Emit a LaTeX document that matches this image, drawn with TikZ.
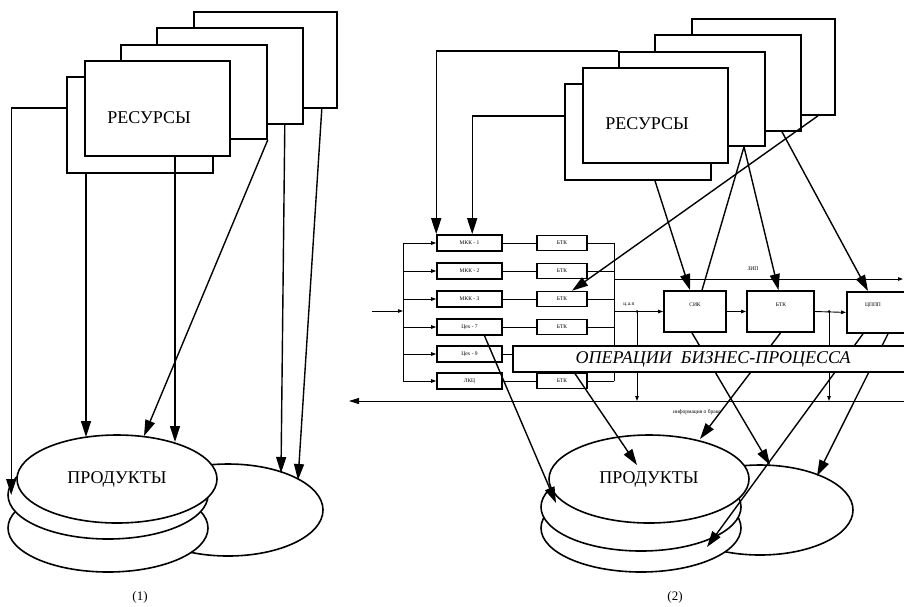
\documentclass[tikz,border=0pt]{standalone}
\usepackage{fontspec}
\setmainfont{Liberation Serif}
\usetikzlibrary{arrows.meta,shapes.geometric,calc}
\newcommand\myfL{\fontsize{18}{20}\selectfont}
\newcommand\myfS{\fontsize{5.5}{6}\selectfont}
\begin{document}
\begin{tikzpicture}[x=1pt,y=-1pt,
  res/.style={draw,line width=1.8pt,fill=white,anchor=north west,inner sep=0pt,minimum width=146pt,minimum height=96pt},
  disk/.style={draw,ellipse,line width=1.6pt,fill=white,inner sep=0pt,minimum width=200pt,minimum height=88pt,font=\myfL},
  bigtext/.style={inner sep=0pt,font=\myfL},
  bigarr/.style={line width=1.4pt,-{Triangle[length=16pt,width=10pt]}},
  plainln/.style={line width=1.4pt},
  thinln/.style={line width=0.9pt},
  sarr/.style={line width=0.9pt,-{Triangle[length=5pt,width=3.5pt]}},
  pbox/.style={draw,line width=1.6pt,fill=white,inner sep=0pt,minimum width=65pt,minimum height=16pt,font=\myfS},
  bbox/.style={draw,line width=1.6pt,fill=white,inner sep=0pt,minimum width=50pt,minimum height=15pt,font=\myfS},
  qbox/.style={draw,line width=1.8pt,fill=white,inner sep=0pt,minimum height=41pt},
  lab/.style={inner sep=0pt,font=\myfS}]
\fill[white] (0,0) rectangle (904,606);
\useasboundingbox (0,0) rectangle (904,606);

% ---------- left: resources
\node[res,minimum width=143pt] (La) at (193,11) {};
\node[res] (Lb) at (156,27) {};
\node[res,minimum height=94pt] (Lc) at (120,44) {};
\node[res] (Le) at (66,76) {};
\node[res,minimum width=145pt,minimum height=95pt] (Ld) at (84,60) {};
\node[bigtext] (Lt) at (149,118) {РЕСУРСЫ};

% ---------- left: products
\node[disk,minimum width=190pt,minimum height=92pt] (Lr) at (228,510) {};
\node[disk] (Ld3) at (108,528) {};
\node[disk] (Ld2) at (108,495) {};
\node[disk] (Lf) at (117,479) {ПРОДУКТЫ};

\draw[bigarr] ($(Le.north west)+(0,32)$) -| ($(Ld2.west)+(4,0)$);
\draw[bigarr] ($(Le.south west)+(20,0)$) -- ($(Lf.center)+(-31,-42)$);
\draw[bigarr] (Lc.south east) -- ($(Lf.center)+(27,-43)$);
\draw[bigarr] ($(Ld.south west)+(91,0)$) -- ($(Lf.center)+(58,-37)$);
\draw[bigarr] ($(Lb.south east)+(-19,0)$) -- ($(Lr.center)+(53,-37)$);
\draw[bigarr] ($(La.south east)+(-16,0)$) -- ($(Lr.center)+(70,-30)$);

\node[font=\fontsize{13}{15}\selectfont,inner sep=0pt] (n1) at (140,597) {(1)};

% ---------- right: process
\coordinate (bus1) at (403,243);
\coordinate (bus6) at (403,381);
\node[pbox] (M1) at (469.5,243) {МКК - 1};
\node[pbox] (M2) at (469.5,271) {МКК - 2};
\node[pbox] (M3) at (469.5,299) {МКК - 3};
\node[pbox] (C7) at (469.5,327) {Цех - 7};
\node[pbox] (C9) at (469.5,354) {Цех - 9};
\node[pbox] (LK) at (469.5,381) {ЛКЦ};
\node[bbox] (B1) at (562,243) {БТК};
\node[bbox] (B2) at (562,271) {БТК};
\node[bbox] (B3) at (562,299) {БТК};
\node[bbox] (B4) at (562,327) {БТК};
\node[bbox] (B6) at (562,381) {БТК};

\draw[thinln] (bus1) -- (bus6);
\draw[sarr] (bus1) -- (M1.west);
\foreach \n in {M2,M3,C7,C9}{\draw[sarr] (\n.west -| bus1) -- (\n.west);}
\draw[sarr] (bus6) -- (LK.west);
\coordinate (in) at (372,311);
\draw[sarr] (in) -- (in -| bus1);

\draw[thinln] (M1.east) -- (B1.west);
\draw[thinln] (M2.east) -- (B2.west);
\draw[thinln] (M3.east) -- (B3.west);
\draw[thinln] (C7.east) -- (B4.west);
\draw[thinln] (LK.east) -- (B6.west);

\coordinate (col1) at (614,243);
\coordinate (col6) at (614,381);
\draw[thinln] (col1) -- (col6);
\foreach \n in {B1,B2,B3,B4,B6}{\draw[thinln] (\n.east) -- (\n.east -| col1);}

\coordinate (zipA) at (614,279);
\coordinate (zipB) at (903,279);
\draw[sarr] (zipA) -- (zipB);
\node[lab] (zipt) at (753,269) {ЗИП};

\node[qbox,minimum width=62pt] (SIK) at (695,311.5) {};
\node[qbox,minimum width=67pt] (BT) at (780.5,311.5) {};
\node[qbox,minimum width=70pt,anchor=north west] (CP) at (846,291) {};
\node[lab] (SIKt) at (695,305) {СИК};
\node[lab] (BTt) at (781,305) {БТК};
\node[lab] (CPt) at (873,305) {ЦППП};

\draw[sarr] (SIK.west -| col1) -- (SIK.west);
\coordinate (d1) at (637,311.5);
\fill (d1) circle (1.5pt);
\node[lab] (dt) at (629,305) {ц.а.п};
\draw[sarr] (SIK.east) -- (BT.west);
\draw[sarr] (BT.east) -- (CP.west);
\coordinate (d2) at (829,311.5);
\fill (d2) circle (1.5pt);
\coordinate (bl1) at (904,401);
\coordinate (bl0) at (349,401);
\draw[line width=1pt,-{Triangle[length=10pt,width=6pt]}] (bl1) -- (bl0);
\draw[sarr] (d1) -- (d1 |- bl1);
\draw[sarr] (d2) -- (d2 |- bl1);
\node[lab] (info) at (697,412) {информация о браке};

% ---------- right: resources
\node[res,minimum width=143pt] (Ra) at (691,18) {};
\node[res] (Rb) at (654,34) {};
\node[res,minimum height=94pt] (Rc) at (618,51) {};
\node[res] (Re) at (564,83) {};
\node[res,minimum width=145pt,minimum height=95pt] (Rd) at (582,67) {};
\node[bigtext] (Rt) at (647,124) {РЕСУРСЫ};

\draw[bigarr] (Rc.north west) -| (M1.north west);
\draw[bigarr] ($(Re.north west)+(0,33)$) -| ($(M1.north west)+(36,0)$);
\draw[bigarr] ($(Re.south west)+(91,0)$) -- ($(SIK.north)+(-5,0)$);
\draw[plainln] ($(Rc.south west)+(126,0)$) -- ($(SIK.north)+(7,0)$);
\draw[bigarr] ($(Rc.south west)+(126,0)$) -- ($(BT.north)+(-2,0)$);
\draw[bigarr] ($(Rb.south west)+(128,0)$) -- ($(CP.north west)+(22,0)$);
\draw[bigarr] ($(Ra.south west)+(127,0)$) -- ($(B3.north)+(10,0)$);

% ---------- right: products
\node[disk,minimum width=186pt,minimum height=90pt] (Rr) at (760,510) {};
\node[disk] (Rd3) at (641,528) {};
\node[disk] (Rd2) at (641,507) {};
\node[disk] (Rf) at (649,479) {ПРОДУКТЫ};

\draw[bigarr] ($(C7.south)+(15,0)$) -- ($(Rf.center)+(-93,24)$);
\draw[bigarr] ($(B6.north)+(11,-2)$) -- ($(Rf.center)+(-12,-14)$);
\draw[bigarr] (BT.south) -- ($(Rf.center)+(51,-40)$);
\draw[bigarr] ($(SIK.south)+(-3,0)$) -- ($(Rr.center)+(10,-45)$);
\draw[bigarr] ($(CP.south west)+(17,0)$) -- ($(Rd3.center)+(66,19)$);
\draw[bigarr] ($(CP.south west)+(42,0)$) -- ($(Rr.center)+(57,-34)$);

\node[draw,line width=2pt,fill=white,anchor=north west,minimum width=400pt,minimum height=26pt,inner sep=0pt,font=\itshape\fontsize{18}{20}\selectfont] (OP) at (512,345) {ОПЕРАЦИИ\ \ БИЗНЕС-ПРОЦЕССА};
\draw[thinln] (C9.east) -- (C9.east -| OP.west);

\node[font=\fontsize{13}{15}\selectfont,inner sep=0pt] (n2) at (675,597) {(2)};
\end{tikzpicture}
\end{document}
